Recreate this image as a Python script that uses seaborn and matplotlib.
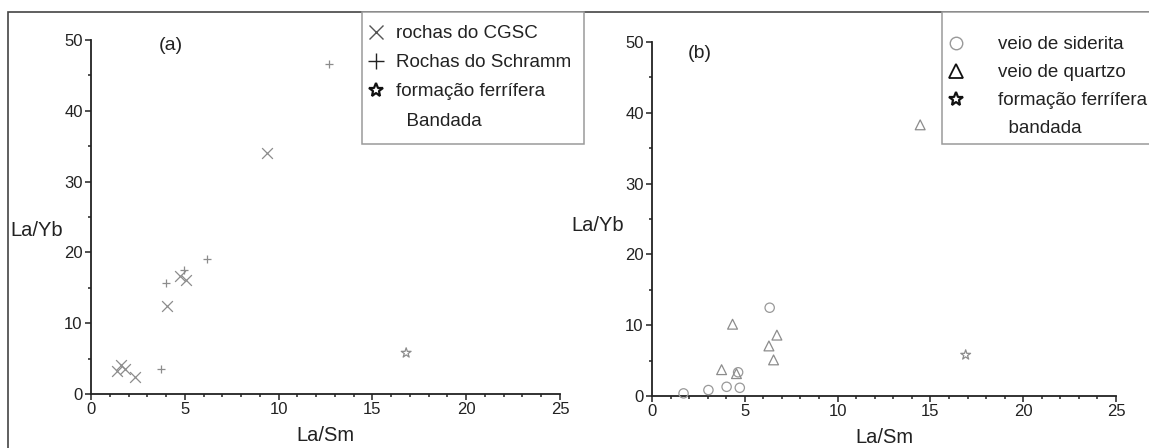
import numpy as np
import pandas as pd
import matplotlib
matplotlib.use("Agg")
import matplotlib.pyplot as plt
import seaborn as sns
from matplotlib.lines import Line2D
from matplotlib.patches import Rectangle
from matplotlib.ticker import MultipleLocator

# painel (a)
cgsc_x = [1.38, 1.6, 1.79, 2.36, 4.05, 4.77, 5.09, 9.4]
cgsc_y = [3.3, 4.15, 3.5, 2.4, 12.4, 16.65, 16.1, 34.0]
schramm_x = [3.75, 4.02, 4.98, 6.2, 12.7]
schramm_y = [3.5, 15.7, 17.45, 19.1, 46.6]
bif_a_x = [16.8]
bif_a_y = [5.8]

# painel (b)
siderita_x = [1.7, 3.04, 4.02, 4.64, 4.73, 6.34]
siderita_y = [0.37, 0.84, 1.3, 3.35, 1.16, 12.47]
quartzo_x = [3.75, 4.34, 4.55, 6.3, 6.55, 6.73, 14.45]
quartzo_y = [3.72, 10.14, 3.16, 7.07, 5.1, 8.6, 38.3]
bif_b_x = [16.9]
bif_b_y = [5.8]

sns.set_style("ticks")
plt.rcParams["font.family"] = ["Liberation Sans", "DejaVu Sans"]

W, H = 1149, 448
fig = plt.figure(figsize=(W / 100, H / 100), dpi=100)
ax_a = fig.add_axes([91 / W, 1 - 394 / H, 469 / W, 354 / H])
ax_b = fig.add_axes([652 / W, 1 - 396 / H, 464 / W, 354 / H])

cinza = "#8c8c8c"


def marca(ax, x, y, marker, s, hollow=False, color=cinza, lw=0.9):
    kws = dict(x=x, y=y, marker=marker, s=s, ax=ax, clip_on=False, zorder=3)
    if hollow:
        kws.update(facecolor="none", edgecolor=color, linewidth=lw)
    else:
        kws.update(color=color, linewidth=lw)
    sns.scatterplot(**kws)


marca(ax_a, cgsc_x, cgsc_y, "x", 60)
marca(ax_a, schramm_x, schramm_y, "+", 30)
marca(ax_a, bif_a_x, bif_a_y, "*", 55, hollow=True)

marca(ax_b, siderita_x, siderita_y, "o", 45, hollow=True, color="#999999")
marca(ax_b, quartzo_x, quartzo_y, "^", 50, hollow=True)
marca(ax_b, bif_b_x, bif_b_y, "*", 55, hollow=True)

for ax in (ax_a, ax_b):
    ax.set_xlim(0, 25)
    ax.set_ylim(0, 50)
    ax.xaxis.set_major_locator(MultipleLocator(5))
    ax.xaxis.set_minor_locator(MultipleLocator(1))
    ax.yaxis.set_major_locator(MultipleLocator(10))
    ax.yaxis.set_minor_locator(MultipleLocator(5))
    ax.tick_params(which="major", direction="out", length=4, width=1.1,
                   labelsize=12, colors="#222222", pad=2)
    ax.tick_params(which="minor", direction="out", length=2.3, width=1.1,
                   colors="#222222")
    for sp in ["top", "right"]:
        ax.spines[sp].set_visible(False)
    for sp in ["left", "bottom"]:
        ax.spines[sp].set_linewidth(1.3)
        ax.spines[sp].set_color("#222222")
    ax.set_xlabel("La/Sm", fontsize=14.5, color="#222222")
    ax.set_ylabel("La/Yb", fontsize=14.5, color="#222222", rotation=0,
                  ha="right", va="center")
    ax.xaxis.set_label_coords(0.5, -0.118)
    ax.xaxis.label.set_va("center")

ax_a.yaxis.set_label_coords(-0.06, 0.463)
ax_b.yaxis.set_label_coords(-0.061, 0.483)
ax_a.text(0.17, 0.985, "(a)", transform=ax_a.transAxes, fontsize=14,
          ha="center", va="center", color="#222222")
ax_b.text(0.102, 0.968, "(b)", transform=ax_b.transAxes, fontsize=14,
          ha="center", va="center", color="#222222")

# moldura geral
fig.add_artist(Rectangle((8 / W, -0.02), 1.2, 1 - 12 / H + 0.02,
                         transform=fig.transFigure, fill=False,
                         ec="#444444", lw=1.2))

# caixas das legendas
fig.add_artist(Rectangle((362 / W, 1 - 144 / H), (584 - 362) / W, 132 / H,
                         transform=fig.transFigure, fc="white",
                         ec="#9a9a9a", lw=1.1, zorder=4))
fig.add_artist(Rectangle((942 / W, 1 - 144 / H), 0.3, 132 / H,
                         transform=fig.transFigure, fc="white",
                         ec="#9a9a9a", lw=1.1, zorder=4))

nada = Line2D([], [], linestyle="none", marker="")
hand_a = [
    Line2D([], [], linestyle="none", marker="x", color="#555555", ms=10, mew=1.0),
    Line2D([], [], linestyle="none", marker="+", color="#222222", ms=11, mew=1.0),
    Line2D([], [], linestyle="none", marker="*", mfc="none", mec="#111111", ms=10, mew=1.6),
    nada,
]
lab_a = ["rochas do CGSC", "Rochas do Schramm", "formação ferrífera", "  Bandada"]
hand_b = [
    Line2D([], [], linestyle="none", marker="o", mfc="none", mec="#999999", ms=9, mew=1.0),
    Line2D([], [], linestyle="none", marker="^", mfc="none", mec="#111111", ms=10, mew=1.3),
    Line2D([], [], linestyle="none", marker="*", mfc="none", mec="#111111", ms=10, mew=1.6),
    nada,
]
lab_b = ["veio de siderita", "veio de quartzo", "formação ferrífera", "  bandada"]

leg_a = fig.legend(hand_a, lab_a, loc="upper left",
                   bbox_to_anchor=(367 / W, 1 - 25 / H), frameon=False,
                   fontsize=13.5, handlelength=1.0, handletextpad=0.55,
                   labelspacing=0.64, borderpad=0, borderaxespad=0)
leg_b = fig.legend(hand_b, lab_b, loc="upper left",
                   bbox_to_anchor=(947 / W, 1 - 36 / H), frameon=False,
                   fontsize=13.5, handlelength=1.0, handletextpad=1.7,
                   labelspacing=0.58, borderpad=0, borderaxespad=0)
for leg in (leg_a, leg_b):
    leg.set_zorder(5)
    for t in leg.get_texts():
        t.set_color("#222222")

fig.savefig("out.png", dpi=100)
